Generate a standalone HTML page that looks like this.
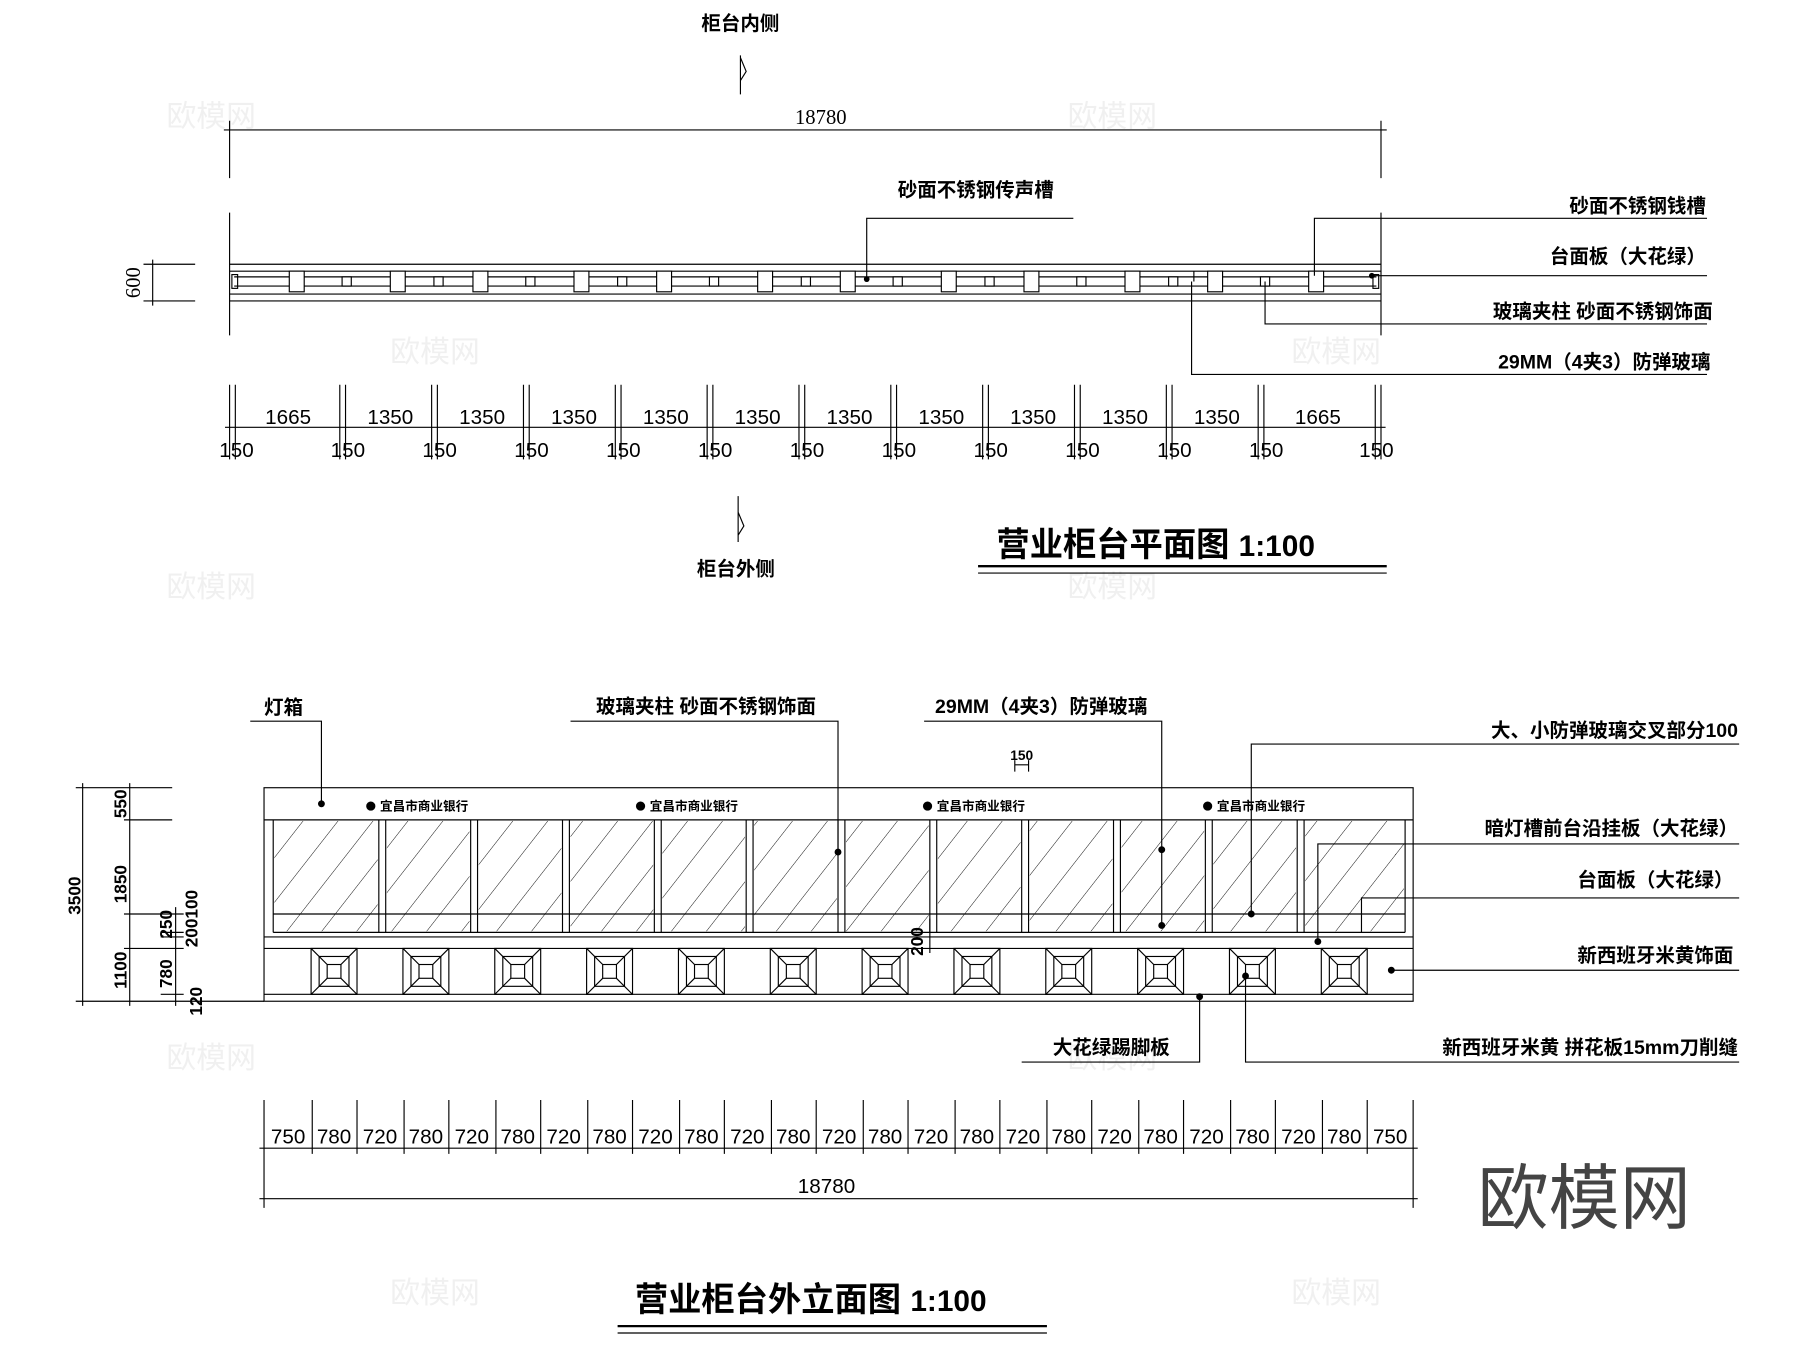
<!DOCTYPE html>
<html><head><meta charset="utf-8"><style>
html,body{margin:0;padding:0;background:#fff;}
svg{display:block}
text{font-family:"Liberation Sans","Noto Sans CJK SC",sans-serif;fill:#000}
.c{font-weight:bold;font-size:17px}
.d{font-family:"Liberation Serif","Noto Serif CJK SC",serif;font-size:18px}
</style></head><body>
<svg width="1800" height="1347" viewBox="0 0 1568 1173" xmlns="http://www.w3.org/2000/svg" stroke="#000" stroke-width="1" fill="none">
<g stroke="none">
<text x="1380" y="1065" font-size="62" text-anchor="middle" style="fill:#444">欧模网</text>
<g style="opacity:0.12" font-size="26">
<text x="145" y="110" style="fill:#888">欧模网</text><text x="930" y="110" style="fill:#888">欧模网</text>
<text x="340" y="315" style="fill:#888">欧模网</text><text x="1125" y="315" style="fill:#888">欧模网</text>
<text x="145" y="520" style="fill:#888">欧模网</text><text x="930" y="520" style="fill:#888">欧模网</text>
<text x="145" y="930" style="fill:#888">欧模网</text><text x="930" y="930" style="fill:#888">欧模网</text>
<text x="340" y="1135" style="fill:#888">欧模网</text><text x="1125" y="1135" style="fill:#888">欧模网</text>
</g></g>

<g stroke="none">
<text class="c" x="645" y="26" text-anchor="middle">柜台内侧</text>
<text class="c" x="641" y="501" text-anchor="middle">柜台外侧</text>
</g>
<path d="M645 48 V82 M645 50 L650 62 L645 70 M643 432 V472 M643 446 L648 458 L643 466"/>
<path d="M200 105 V155 M1203 105 V155 M195 113 H1208"/>
<text class="d" x="715" y="108" text-anchor="middle" stroke="none">18780</text>
<path d="M200 185 V292 M1203 185 V292"/>
<path d="M200 230 H1203 M200 236 H1203 M204 241 H1199 M204 249 H1199 M200 256 H1203 M200 262 H1203"/>
<rect x="202" y="239" width="5" height="12"/><rect x="1196" y="239" width="5" height="12"/>
<path d="M125 230 H170 M125 262 H170 M133 226 V266"/>
<text class="d" x="0" y="0" transform="translate(122,246) rotate(-90)" text-anchor="middle" stroke="none">600</text>
<g fill="#fff">
<rect x="252" y="236" width="13" height="18"/><rect x="340" y="236" width="13" height="18"/><rect x="412" y="236" width="13" height="18"/><rect x="500" y="236" width="13" height="18"/><rect x="572" y="236" width="13" height="18"/><rect x="660" y="236" width="13" height="18"/><rect x="732" y="236" width="13" height="18"/><rect x="820" y="236" width="13" height="18"/><rect x="892" y="236" width="13" height="18"/><rect x="980" y="236" width="13" height="18"/><rect x="1052" y="236" width="13" height="18"/><rect x="1140" y="236" width="13" height="18"/>
<rect x="298" y="241" width="8" height="8"/><rect x="378" y="241" width="8" height="8"/><rect x="458" y="241" width="8" height="8"/><rect x="538" y="241" width="8" height="8"/><rect x="618" y="241" width="8" height="8"/><rect x="698" y="241" width="8" height="8"/><rect x="778" y="241" width="8" height="8"/><rect x="858" y="241" width="8" height="8"/><rect x="938" y="241" width="8" height="8"/><rect x="1018" y="241" width="8" height="8"/><rect x="1098" y="241" width="8" height="8"/>
</g>
<path d="M755 243 V190 H935 M1145 240 V190 H1487 M1195 240 H1487 M1102 245 V282 H1487 M1038 245 V326 H1487 M1040 236 V245"/>
<circle cx="755" cy="243" r="2" fill="#000"/><circle cx="1195" cy="240" r="2" fill="#000"/>
<g stroke="none" class="c">
<text x="850" y="171" text-anchor="middle">砂面不锈钢传声槽</text>
<text x="1486" y="185" text-anchor="end">砂面不锈钢钱槽</text>
<text x="1486" y="229" text-anchor="end">台面板（大花绿）</text>
<text x="1492" y="277" text-anchor="end">玻璃夹柱  砂面不锈钢饰面</text>
<text x="1490" y="321" text-anchor="end">29MM（4夹3）防弹玻璃</text>
</g>
<path d="M200 335 V400 M205 335 V400 M296 335 V400 M301 335 V400 M376 335 V400 M381 335 V400 M456 335 V400 M461 335 V400 M536 335 V400 M541 335 V400 M616 335 V400 M621 335 V400 M696 335 V400 M701 335 V400 M776 335 V400 M781 335 V400 M856 335 V400 M861 335 V400 M936 335 V400 M941 335 V400 M1016 335 V400 M1021 335 V400 M1096 335 V400 M1101 335 V400 M1198 335 V400 M1203 335 V400 M196 372 H1207"/>
<g class="d" stroke="none" text-anchor="middle">
<text x="251" y="369">1665</text><text x="340" y="369">1350</text><text x="420" y="369">1350</text><text x="500" y="369">1350</text><text x="580" y="369">1350</text><text x="660" y="369">1350</text><text x="740" y="369">1350</text><text x="820" y="369">1350</text><text x="900" y="369">1350</text><text x="980" y="369">1350</text><text x="1060" y="369">1350</text><text x="1148" y="369">1665</text>
<text x="206" y="398">150</text><text x="303" y="398">150</text><text x="383" y="398">150</text><text x="463" y="398">150</text><text x="543" y="398">150</text><text x="623" y="398">150</text><text x="703" y="398">150</text><text x="783" y="398">150</text><text x="863" y="398">150</text><text x="943" y="398">150</text><text x="1023" y="398">150</text><text x="1103" y="398">150</text><text x="1199" y="398">150</text>
</g>
<text x="868" y="484" stroke="none" style="font-size:29px;font-weight:bold">营业柜台平面图 <tspan style="font-size:26px">1:100</tspan></text>
<path d="M852 493 H1208" stroke-width="2"/><path d="M852 499 H1208"/>

<rect x="230" y="686" width="1001" height="186"/>
<path d="M230 714 H1231 M238 796 H1224 M238 812 H1224 M230 816 H1231 M230 826 H1231 M230 866 H1231"/>
<path d="M238 714 V812 M1224 714 V812"/>
<path d="M330 714 V812 M336 714 V812 M410 714 V812 M416 714 V812 M490 714 V812 M496 714 V812 M570 714 V812 M576 714 V812 M650 714 V812 M656 714 V812 M730 714 V812 M736 714 V812 M810 714 V812 M816 714 V812 M890 714 V812 M896 714 V812 M970 714 V812 M976 714 V812 M1050 714 V812 M1056 714 V812 M1130 714 V812 M1136 714 V812"/>
<defs>
<pattern id="h" width="24" height="24" patternUnits="userSpaceOnUse" patternTransform="rotate(38)"><path d="M0 0 V24" stroke="#000" stroke-width="0.8"/></pattern>
</defs>
<g fill="url(#h)" stroke="none">
<rect x="239" y="715" width="90" height="96"/><rect x="337" y="715" width="72" height="96"/><rect x="417" y="715" width="72" height="96"/><rect x="497" y="715" width="72" height="96"/><rect x="577" y="715" width="72" height="96"/><rect x="657" y="715" width="72" height="96"/><rect x="737" y="715" width="72" height="96"/><rect x="817" y="715" width="72" height="96"/><rect x="897" y="715" width="72" height="96"/><rect x="977" y="715" width="72" height="96"/><rect x="1057" y="715" width="72" height="96"/><rect x="1137" y="715" width="86" height="96"/>
</g>
<g id="sq"><rect x="271" y="826" width="40" height="40"/><rect x="278" y="833" width="26" height="26"/><rect x="285" y="840" width="12" height="12"/><path d="M271 826 L285 840 M311 826 L297 840 M271 866 L285 852 M311 866 L297 852"/></g>
<use href="#sq" x="80"/><use href="#sq" x="160"/><use href="#sq" x="240"/><use href="#sq" x="320"/><use href="#sq" x="400"/><use href="#sq" x="480"/><use href="#sq" x="560"/><use href="#sq" x="640"/><use href="#sq" x="720"/><use href="#sq" x="800"/><use href="#sq" x="880"/>
<g stroke="none" style="font-size:11px;font-weight:bold">
<circle cx="323" cy="702" r="4" fill="#000"/><text x="331" y="706">宜昌市商业银行</text>
<circle cx="558" cy="702" r="4" fill="#000"/><text x="566" y="706">宜昌市商业银行</text>
<circle cx="808" cy="702" r="4" fill="#000"/><text x="816" y="706">宜昌市商业银行</text>
<circle cx="1052" cy="702" r="4" fill="#000"/><text x="1060" y="706">宜昌市商业银行</text>
</g>
<path d="M66 686 H150 M66 872 H230 M108 714 H150 M108 826 H160 M108 796 H160 M140 812 H160 M140 816 H160 M140 866 H160 M72 682 V876 M113 682 V876 M153 790 V876"/>
<g stroke="none" style="font-size:15px;font-weight:bold">
<text transform="translate(70,780) rotate(-90)" text-anchor="middle">3500</text>
<text transform="translate(110,700) rotate(-90)" text-anchor="middle">550</text>
<text transform="translate(110,770) rotate(-90)" text-anchor="middle">1850</text>
<text transform="translate(110,845) rotate(-90)" text-anchor="middle">1100</text>
<text transform="translate(150,805) rotate(-90)" text-anchor="middle">250</text>
<text transform="translate(172,800) rotate(-90)" text-anchor="middle">200100</text>
<text transform="translate(150,848) rotate(-90)" text-anchor="middle">780</text>
<text transform="translate(176,872) rotate(-90)" text-anchor="middle">120</text>
<text transform="translate(804,820) rotate(-90)" text-anchor="middle">200</text>
<text x="890" y="662" text-anchor="middle" style="font-size:12px">150</text>
</g>
<path d="M884 666 H896 M884 662 V672 M896 662 V672 M810 800 V830"/>
<path d="M218 628 H280 V700 M497 628 H730 V742 M805 628 H1012 V806 M1090 796 V648 H1515 M1148 820 V735 H1515 M1186 812 V782 H1515 M1212 845 H1515 M1045 868 V925 H890 M1085 850 V925 H1515"/>
<g fill="#000"><circle cx="280" cy="700" r="2.5"/><circle cx="730" cy="742" r="2.5"/><circle cx="1012" cy="740" r="2.5"/><circle cx="1012" cy="806" r="2.5"/><circle cx="1090" cy="796" r="2.5"/><circle cx="1148" cy="820" r="2.5"/><circle cx="1212" cy="845" r="2.5"/><circle cx="1045" cy="868" r="2.5"/><circle cx="1085" cy="850" r="2.5"/></g>
<g stroke="none" class="c">
<text x="230" y="622">灯箱</text>
<text x="615" y="621" text-anchor="middle">玻璃夹柱  砂面不锈钢饰面</text>
<text x="907" y="621" text-anchor="middle">29MM（4夹3）防弹玻璃</text>
<text x="1514" y="642" text-anchor="end">大、小防弹玻璃交叉部分100</text>
<text x="1514" y="727" text-anchor="end">暗灯槽前台沿挂板（大花绿）</text>
<text x="1510" y="772" text-anchor="end">台面板（大花绿）</text>
<text x="1510" y="838" text-anchor="end">新西班牙米黄饰面</text>
<text x="968" y="918" text-anchor="middle">大花绿踢脚板</text>
<text x="1514" y="918" text-anchor="end">新西班牙米黄  拼花板15mm刀削缝</text>
</g>
<path d="M230 958 V1052 M1231 958 V1052 M226 1000 H1235 M226 1044 H1235"/>
<path d="M272 958 V1005 M311 958 V1005 M352 958 V1005 M391 958 V1005 M432 958 V1005 M471 958 V1005 M512 958 V1005 M551 958 V1005 M592 958 V1005 M631 958 V1005 M672 958 V1005 M711 958 V1005 M752 958 V1005 M791 958 V1005 M832 958 V1005 M871 958 V1005 M912 958 V1005 M951 958 V1005 M992 958 V1005 M1031 958 V1005 M1072 958 V1005 M1111 958 V1005 M1152 958 V1005 M1191 958 V1005"/>
<g class="d" stroke="none" text-anchor="middle">
<text x="251" y="996">750</text><text x="291" y="996">780</text><text x="331" y="996">720</text><text x="371" y="996">780</text><text x="411" y="996">720</text><text x="451" y="996">780</text><text x="491" y="996">720</text><text x="531" y="996">780</text><text x="571" y="996">720</text><text x="611" y="996">780</text><text x="651" y="996">720</text><text x="691" y="996">780</text><text x="731" y="996">720</text><text x="771" y="996">780</text><text x="811" y="996">720</text><text x="851" y="996">780</text><text x="891" y="996">720</text><text x="931" y="996">780</text><text x="971" y="996">720</text><text x="1011" y="996">780</text><text x="1051" y="996">720</text><text x="1091" y="996">780</text><text x="1131" y="996">720</text><text x="1171" y="996">780</text><text x="1211" y="996">750</text>
<text x="720" y="1039">18780</text>
</g>
<text x="553" y="1142" stroke="none" style="font-size:29px;font-weight:bold">营业柜台外立面图 <tspan style="font-size:26px">1:100</tspan></text>
<path d="M538 1155 H912" stroke-width="2"/><path d="M538 1161 H912"/>
</svg>
</body></html>
